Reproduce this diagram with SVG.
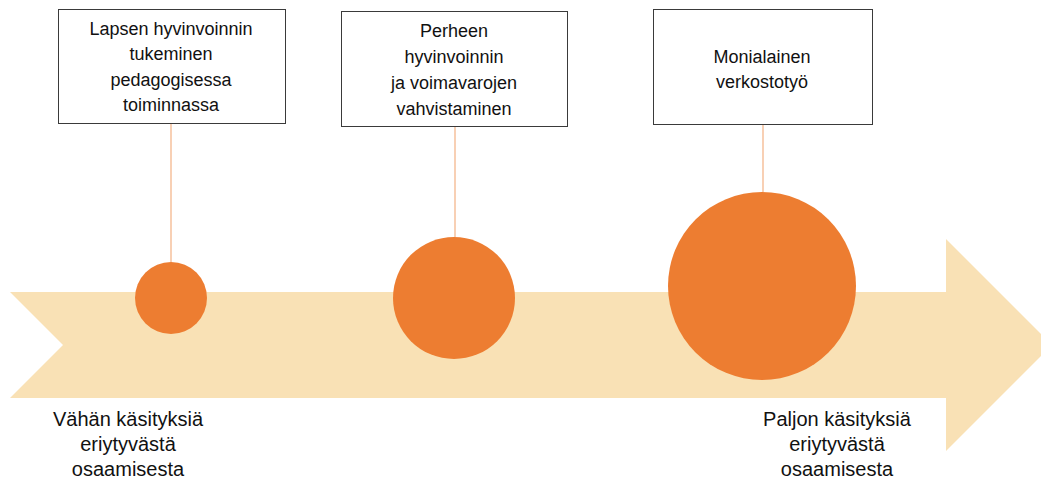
<svg xmlns="http://www.w3.org/2000/svg" width="1041" height="479" viewBox="0 0 1041 479">
<style>
.t{font-family:"Liberation Sans",Arial,sans-serif;font-size:18px;fill:#111;text-anchor:middle}
.b{font-size:20px}
.box{fill:#fff;stroke:#3a3a3a;stroke-width:1}
.ln{stroke:#F4B183;stroke-width:1.2;fill:none}
.c{fill:#ED7D31}
</style>
<rect width="1041" height="479" fill="#fff"/>
<g id="arrow">
<polygon points="10,292 946,292 946,239 1052,345 946,451 946,398 10,398 63,345" fill="#F9E1B5"/>
</g>
<g id="connectors">
<line class="ln" x1="171" y1="123" x2="171" y2="262"/>
<line class="ln" x1="455" y1="126" x2="455" y2="237"/>
<line class="ln" x1="763" y1="124" x2="763" y2="192"/>
</g>
<g id="node1">
<rect class="box" x="58.5" y="9.5" width="227" height="114"/>
<text class="t" x="171" y="35">Lapsen hyvinvoinnin</text>
<text class="t" x="171" y="60">tukeminen</text>
<text class="t" x="171" y="86">pedagogisessa</text>
<text class="t" x="171" y="111">toiminnassa</text>
</g>
<g id="node2">
<rect class="box" x="341.5" y="11.5" width="226" height="115"/>
<text class="t" x="454" y="37">Perheen</text>
<text class="t" x="454" y="63">hyvinvoinnin</text>
<text class="t" x="454" y="89">ja voimavarojen</text>
<text class="t" x="454" y="115">vahvistaminen</text>
</g>
<g id="node3">
<rect class="box" x="653.5" y="9.5" width="219" height="115"/>
<text class="t" x="762" y="63">Monialainen</text>
<text class="t" x="762" y="88">verkostotyö</text>
</g>
<g id="circle1"><circle class="c" cx="171" cy="298" r="36"/></g>
<g id="circle2"><circle class="c" cx="454" cy="298" r="61"/></g>
<g id="circle3"><circle class="c" cx="762" cy="286" r="94"/></g>
<g id="label-left">
<text class="t b" x="128" y="426">Vähän käsityksiä</text>
<text class="t b" x="128" y="451">eriytyvästä</text>
<text class="t b" x="128" y="476">osaamisesta</text>
</g>
<g id="label-right">
<text class="t b" x="837" y="426">Paljon käsityksiä</text>
<text class="t b" x="837" y="451">eriytyvästä</text>
<text class="t b" x="837" y="476">osaamisesta</text>
</g>
</svg>
